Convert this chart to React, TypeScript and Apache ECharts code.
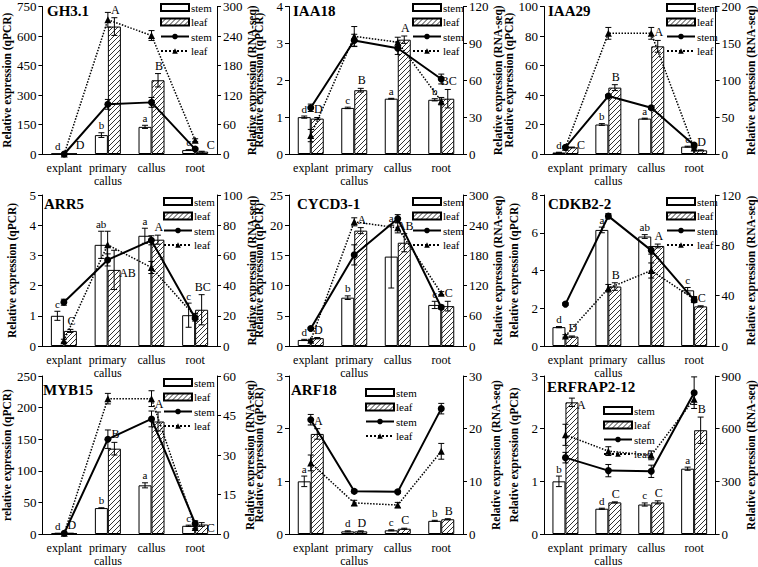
import React, { useEffect, useRef } from 'react';
import * as echarts from 'echarts';

const categories = ['explant', 'primary\ncallus', 'callus', 'root'];
const genes = ['GH3.1', 'IAA18', 'IAA29', 'ARR5', 'CYCD3-1', 'CDKB2-2', 'MYB15', 'ARF18', 'ERFRAP2-12'];
const leftNames = [
  'Relative expression (qPCR)', 'Relative expression (qPCR)', 'Relative expression (qPCR)',
  'Relative expression (qPCR)', 'Relative expression (qPCR)', 'Relative expression (qPCR)',
  'relative expression (qPCR)', 'Relative expression (qPCR)', 'Relative expression (qPCR)',
];
const rightName = 'Relative expression (RNA-seq)';
const leftMax = [750, 4, 100, 5, 25, 8, 250, 3, 3];
const leftInterval = [150, 1, 20, 1, 5, 2, 50, 1, 1];
const rightMax = [300, 120, 200, 100, 300, 120, 60, 30, 900];
const rightInterval = [60, 30, 50, 20, 60, 40, 15, 10, 300];

// qPCR bars (left axis)
const stemBar = [
  [2, 96, 138, 20],
  [1.0, 1.25, 1.5, 1.47],
  [1, 20, 24, 5],
  [1.0, 3.35, 3.65, 1.02],
  [1.0, 8.0, 14.8, 6.8],
  [1.0, 6.15, 5.8, 2.95],
  [1, 41, 77, 13],
  [1.0, 0.05, 0.07, 0.25],
  [1.0, 0.48, 0.56, 1.24],
];
const stemBarErr = [
  [0, 12, 8, 2],
  [0.03, 0.02, 0.01, 0.03],
  [0.2, 0.6, 0.3, 0.3],
  [0.15, 0.45, 0.25, 0.4],
  [0.1, 0.3, 5.2, 0.6],
  [0.03, 0.15, 0.1, 0.15],
  [0.3, 0.5, 4, 1],
  [0.1, 0.01, 0.01, 0.01],
  [0.1, 0.01, 0.03, 0.03],
];
const leafBar = [
  [2, 648, 375, 12],
  [0.96, 1.73, 3.1, 1.5],
  [4.5, 45, 73, 2.5],
  [0.5, 2.52, 3.52, 1.2],
  [1.3, 19.1, 17.1, 6.6],
  [0.5, 3.15, 5.3, 2.1],
  [1, 135, 178, 15],
  [1.9, 0.05, 0.1, 0.28],
  [2.5, 0.6, 0.6, 1.97],
];
const leafBarErr = [
  [0, 45, 34, 2],
  [0.03, 0.05, 0.1, 0.25],
  [0.2, 2, 4, 0.3],
  [0.05, 0.65, 0.15, 0.5],
  [0.1, 0.5, 1.5, 0.8],
  [0.03, 0.2, 0.1, 0.03],
  [0.3, 10, 15, 3],
  [0.1, 0.01, 0.01, 0.01],
  [0.08, 0.01, 0.03, 0.25],
];
// RNA-seq lines (right axis)
const stemLine = [
  [0, 101, 105, 10],
  [37.6, 92.4, 86, 61],
  [9, 78.6, 62.7, 12],
  [29, 57, 70, 18.5],
  [34.7, 181, 253, 77],
  [33.3, 103.2, 76, 36.5],
  [0.3, 36, 43.7, 4],
  [21.7, 8.1, 8, 23.8],
  [435, 361, 357, 805],
];
const stemLineErr = [
  [0, 10, 10, 2],
  [3, 5, 5, 4],
  [1, 2, 2, 1],
  [2, 4, 3, 2],
  [2, 20, 8, 4],
  [1, 2, 3, 2],
  [0.2, 3.5, 3, 1],
  [1, 0.3, 0.3, 1],
  [30, 35, 35, 90],
];
const leafLine = [
  [0, 273, 241, 28],
  [15, 95.7, 91, 43],
  [9, 163.6, 163.6, 8],
  [3.5, 67, 52, 19.6],
  [11.3, 246.7, 234.7, 105],
  [8, 45.9, 60, 37.3],
  [0.3, 51.4, 51.4, 2.5],
  [13.5, 5.9, 5.5, 15.7],
  [565, 472, 448, 768],
];
const leafLineErr = [
  [0, 15, 10, 3],
  [5, 8, 4, 3],
  [1, 8, 8, 1],
  [1, 9, 4, 2],
  [2, 8, 10, 3],
  [1, 3, 6, 2],
  [0.2, 2, 3, 0.5],
  [1.5, 0.5, 0.5, 1.5],
  [60, 25, 25, 30],
];
const stemLetters = [
  ['d', 'b', 'a', 'c'], ['d', 'c', 'a', 'b'], ['d', 'b', 'a', 'c'],
  ['c', 'ab', 'a', 'c'], ['d', 'b', 'a', 'c'], ['d', 'a', 'ab', 'c'],
  ['d', 'b', 'a', 'c'], ['a', 'd', 'c', 'b'], ['b', 'd', 'c', 'a'],
];
const leafLetters = [
  ['D', 'A', 'B', 'C'], ['D', 'B', 'A', 'BC'], ['C', 'B', 'A', 'D'],
  ['C', 'AB', 'A', 'BC'], ['D', 'A', 'AB', 'C'], ['D', 'B', 'A', 'C'],
  ['D', 'B', 'A', 'C'], ['A', 'D', 'C', 'B'], ['A', 'C', 'C', 'B'],
];

// layout
const colLeft = [42, 289, 544];
const colWidth = [175, 174, 175];
const rowTop = [6, 195, 376];
const rowHeight = [148, 151, 161];
const titlePos = [
  [47, 4], [293, 4], [548, 4],
  [44, 197], [297, 197], [548, 197],
  [43, 383], [291, 383], [547, 380],
];
const legendPos = [
  [160, 2], [412, 2], [666, 2],
  [163, 196], [412, 196], [666, 196],
  [163, 377], [365, 387], [603, 405],
];
// uppercase letters drawn beside (right of) the bar instead of above
const leafLetterSide = [
  [true, false, false, true], [false, false, false, false], [true, false, false, false],
  [false, true, false, false], [false, false, false, false], [false, false, false, false],
  [false, false, false, true], [false, false, false, false], [true, false, false, false],
];

const FONT = 'Liberation Serif';
const HALF = 6.5;

function makeHatch() {
  const s = 5;
  const c = document.createElement('canvas');
  c.width = s;
  c.height = s;
  const ctx = c.getContext('2d')!;
  ctx.fillStyle = '#ffffff';
  ctx.fillRect(0, 0, s, s);
  ctx.strokeStyle = '#333333';
  ctx.lineWidth = 1;
  ctx.beginPath();
  ctx.moveTo(0, s);
  ctx.lineTo(s, 0);
  ctx.moveTo(-1, 1);
  ctx.lineTo(1, -1);
  ctx.moveTo(s - 1, s + 1);
  ctx.lineTo(s + 1, s - 1);
  ctx.stroke();
  return c;
}

function errRender(params: any, api: any) {
  const cat = api.value(0);
  const v = api.value(1);
  const e = api.value(2);
  const off = api.value(3);
  if (!e) return null;
  const top = api.coord([cat, v + e]);
  const bot = api.coord([cat, Math.max(v - e, 0)]);
  const x = top[0] + off;
  const st = { stroke: '#000', lineWidth: 1 };
  return {
    type: 'group',
    children: [
      { type: 'line', shape: { x1: x, y1: top[1], x2: x, y2: bot[1] }, style: st },
      { type: 'line', shape: { x1: x - 3, y1: top[1], x2: x + 3, y2: top[1] }, style: st },
      { type: 'line', shape: { x1: x - 3, y1: bot[1], x2: x + 3, y2: bot[1] }, style: st },
    ],
  };
}

export default function App() {
  const ref = useRef<HTMLDivElement>(null);
  useEffect(() => {
    if (!ref.current) return;
    const chart = echarts.init(ref.current, null, { renderer: 'svg' });
    const hatch = { image: makeHatch(), repeat: 'repeat' };

    const grid: any[] = [];
    const xAxis: any[] = [];
    const yAxis: any[] = [];
    const series: any[] = [];
    const legend: any[] = [];
    const title: any[] = [];

    genes.forEach((g, i) => {
      const r = Math.floor(i / 3);
      const c = i % 3;
      const axisBottom = rowTop[r] + rowHeight[r];
      grid.push({ left: colLeft[c], top: rowTop[r], width: colWidth[c], height: rowHeight[r], containLabel: false });
      xAxis.push({
        type: 'category',
        gridIndex: i,
        data: categories,
        axisLine: { lineStyle: { color: '#000', width: 1 } },
        axisTick: { length: 4, lineStyle: { color: '#000' } },
        axisLabel: { color: '#000', fontFamily: FONT, fontSize: 12, margin: 7, lineHeight: 13, interval: 0 },
      });
      yAxis.push({
        type: 'value',
        gridIndex: i,
        min: 0,
        max: leftMax[i],
        interval: leftInterval[i],
        position: 'left',
        name: leftNames[i],
        nameLocation: 'middle',
        nameRotate: 90,
        nameGap: 24,
        nameTextStyle: { fontFamily: FONT, fontSize: 11.5, fontWeight: 'bold', color: '#000' },
        axisLine: { show: true, lineStyle: { color: '#000' } },
        axisTick: { show: true, length: 4, lineStyle: { color: '#000' } },
        axisLabel: { color: '#000', fontFamily: FONT, fontSize: 13, margin: 6 },
        splitLine: { show: false },
      });
      yAxis.push({
        type: 'value',
        gridIndex: i,
        min: 0,
        max: rightMax[i],
        interval: rightInterval[i],
        position: 'right',
        name: rightName,
        nameLocation: 'middle',
        nameRotate: 90,
        nameGap: 27,
        nameTextStyle: { fontFamily: FONT, fontSize: 11.5, fontWeight: 'bold', color: '#000' },
        axisLine: { show: true, lineStyle: { color: '#000' } },
        axisTick: { show: true, length: 4, lineStyle: { color: '#000' } },
        axisLabel: { color: '#000', fontFamily: FONT, fontSize: 13, margin: 6 },
        splitLine: { show: false },
      });
      title.push({
        text: g,
        left: titlePos[i][0],
        top: titlePos[i][1],
        padding: 0,
        textStyle: { fontFamily: FONT, fontSize: 15, lineHeight: 14, fontWeight: 'bold', color: '#000' },
      });
      const nSB = `stem|bar|${i}`;
      const nLB = `leaf|bar|${i}`;
      const nSL = `stem|line|${i}`;
      const nLL = `leaf|line|${i}`;
      legend.push({
        left: legendPos[i][0],
        top: legendPos[i][1],
        orient: 'vertical',
        itemWidth: 28,
        itemHeight: 7,
        itemGap: 3.5,
        padding: 0,
        selectedMode: false,
        data: [
          { name: nSB, icon: 'rect' },
          { name: nLB, icon: 'rect' },
          { name: nSL },
          { name: nLL },
        ],
        formatter: (n: string) => n.split('|')[0],
        textStyle: { fontFamily: FONT, fontSize: 11, color: '#000', padding: [0, 0, 0, -3] },
      });
      series.push({
        name: nSB,
        type: 'bar',
        xAxisIndex: i,
        yAxisIndex: 2 * i,
        data: stemBar[i],
        barWidth: 13,
        barGap: '0%',
        itemStyle: { color: '#ffffff', borderColor: '#000', borderWidth: 1 },
        z: 2,
      });
      series.push({
        name: nLB,
        type: 'bar',
        xAxisIndex: i,
        yAxisIndex: 2 * i,
        data: leafBar[i],
        barWidth: 13,
        barGap: '0%',
        itemStyle: { color: hatch, borderColor: '#000', borderWidth: 1 },
        z: 2,
      });
      series.push({
        type: 'custom',
        xAxisIndex: i,
        yAxisIndex: 2 * i,
        renderItem: errRender,
        data: [
          ...stemBar[i].map((v, k) => [k, v, stemBarErr[i][k], -HALF]),
          ...leafBar[i].map((v, k) => [k, v, leafBarErr[i][k], HALF]),
        ],
        z: 3,
        silent: true,
      });
      // significance letters
      const letterData = [
        ...stemBar[i].map((v, k) => [k, v, stemBarErr[i][k], 0]),
        ...leafBar[i].map((v, k) => [k, v, leafBarErr[i][k], 1]),
      ];
      series.push({
        type: 'custom',
        xAxisIndex: i,
        yAxisIndex: 2 * i,
        data: letterData,
        z: 6,
        silent: true,
        renderItem: (params: any, api: any) => {
          const k = api.value(0);
          const v = api.value(1);
          const e = api.value(2);
          const isLeaf = api.value(3) === 1;
          const txt = isLeaf ? leafLetters[i][k] : stemLetters[i][k];
          const side = isLeaf && leafLetterSide[i][k];
          if (side) {
            const p = api.coord([k, v]);
            return {
              type: 'text',
              x: p[0] + HALF + 5,
              y: Math.min(p[1] + 3, axisBottom - 9),
              style: {
                text: txt, fontFamily: FONT, fontSize: 12, lineHeight: 12, fill: '#000',
                align: 'left', verticalAlign: 'middle',
              },
            };
          }
          const p = api.coord([k, v + e]);
          return {
            type: 'text',
            x: p[0] + (isLeaf ? HALF + 1 : -HALF),
            y: p[1] - 2,
            style: {
              text: txt, fontFamily: FONT, fontSize: isLeaf ? 12 : 11, lineHeight: isLeaf ? 12 : 11,
              fill: '#000', align: 'center', verticalAlign: 'bottom',
            },
          };
        },
      });
      series.push({
        name: nSL,
        type: 'line',
        xAxisIndex: i,
        yAxisIndex: 2 * i + 1,
        data: stemLine[i],
        symbol: 'circle',
        symbolSize: 7,
        itemStyle: { color: '#000' },
        lineStyle: { color: '#000', width: 2, type: 'solid' },
        z: 5,
      });
      series.push({
        name: nLL,
        type: 'line',
        xAxisIndex: i,
        yAxisIndex: 2 * i + 1,
        data: leafLine[i],
        symbol: 'triangle',
        symbolSize: 7,
        itemStyle: { color: '#000' },
        lineStyle: { color: '#000', width: 1.5, type: 'dotted' },
        z: 4,
      });
      series.push({
        type: 'custom',
        xAxisIndex: i,
        yAxisIndex: 2 * i + 1,
        renderItem: errRender,
        data: [
          ...stemLine[i].map((v, k) => [k, v, stemLineErr[i][k], 0]),
          ...leafLine[i].map((v, k) => [k, v, leafLineErr[i][k], 0]),
        ],
        z: 5,
        silent: true,
      });
    });

    chart.setOption({
      animation: false,
      backgroundColor: '#ffffff',
      textStyle: { fontFamily: FONT },
      title,
      legend,
      grid,
      xAxis,
      yAxis,
      series,
    });
    return () => chart.dispose();
  }, []);
  return <div ref={ref} style={{ width: 758, height: 567, position: 'absolute', left: 0, top: 0 }} />;
}
